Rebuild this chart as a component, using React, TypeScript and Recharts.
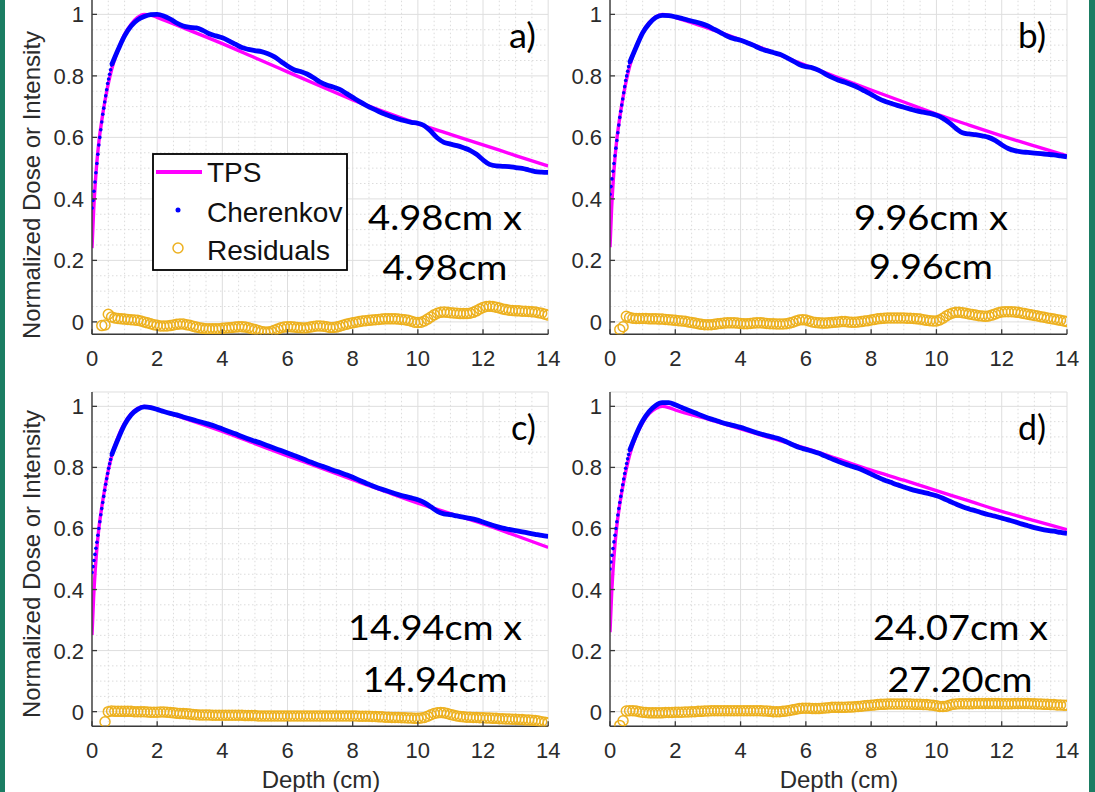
import React from "react";
import { ComposedChart, Line, Scatter, XAxis, YAxis, CartesianGrid, ReferenceLine } from "recharts";

const FONT = '"Liberation Sans", Arial, Helvetica, sans-serif';
const ANNOT_FONT = 'Lato, "Open Sans", sans-serif';
const AXIS = "#3a3a3a";
const TICK_TXT = "#2b2b2b";
const MAJOR_GRID = "#dedede";
const MINOR_GRID = "#dcdcdc";
const TPS_COLOR = "#ff00ff";
const CHER_COLOR = "#0000ff";
const RES_COLOR = "#EDB120";
const TEAL = "#1b7d63";

// ---------- axes ----------
const X_TICKS = [0, 2, 4, 6, 8, 10, 12, 14];
const Y_TICKS = [0, 0.2, 0.4, 0.6, 0.8, 1];
const X_MINOR = [0.5, 1, 1.5, 2.5, 3, 3.5, 4.5, 5, 5.5, 6.5, 7, 7.5, 8.5, 9, 9.5, 10.5, 11, 11.5, 12.5, 13, 13.5];
const Y_MINOR = [0.05, 0.1, 0.15, 0.25, 0.3, 0.35, 0.45, 0.5, 0.55, 0.65, 0.7, 0.75, 0.85, 0.9, 0.95];

// ---------- TPS (dose) ----------
const TPS_DEPTH = [0, 0.05, 0.1, 0.15, 0.2, 0.3, 0.4, 0.5, 0.6, 0.8, 1, 1.2, 1.4, 1.6, 1.8, 2, 3, 4, 5, 6, 7, 8, 9, 10, 11, 12, 13, 14];
const tpsA = [0.24, 0.36, 0.45, 0.52, 0.575, 0.655, 0.72, 0.775, 0.82, 0.885, 0.935, 0.968, 0.99, 1.0, 0.998, 0.99, 0.948, 0.905, 0.859, 0.813, 0.767, 0.722, 0.682, 0.644, 0.61, 0.576, 0.541, 0.507];
const tpsB = [0.243, 0.37, 0.46, 0.53, 0.585, 0.665, 0.73, 0.785, 0.83, 0.895, 0.942, 0.973, 0.992, 1.0, 0.997, 0.99, 0.955, 0.917, 0.876, 0.834, 0.794, 0.754, 0.715, 0.676, 0.64, 0.605, 0.572, 0.54];
const tpsC = [0.251, 0.375, 0.465, 0.535, 0.59, 0.67, 0.735, 0.79, 0.835, 0.9, 0.945, 0.975, 0.993, 1.0, 0.997, 0.99, 0.955, 0.918, 0.878, 0.838, 0.799, 0.76, 0.721, 0.683, 0.649, 0.615, 0.577, 0.538];
const tpsD = [0.26, 0.385, 0.475, 0.545, 0.6, 0.68, 0.742, 0.795, 0.84, 0.903, 0.947, 0.976, 0.993, 1.0, 0.996, 0.988, 0.958, 0.926, 0.894, 0.862, 0.827, 0.791, 0.758, 0.724, 0.69, 0.656, 0.626, 0.596];

// ---------- Cherenkov, build-up region (depth 0 .. 0.6, every 0.03 cm) ----------
const RISE_START = 0;
const RISE_STEP = 0.03;
const riseA = [0.37, 0.395, 0.425, 0.455, 0.485, 0.515, 0.545, 0.575, 0.6, 0.625, 0.65, 0.675, 0.695, 0.715, 0.735, 0.755, 0.775, 0.79, 0.805, 0.82, 0.835];
const riseB = [0.415, 0.44, 0.465, 0.49, 0.515, 0.54, 0.565, 0.59, 0.615, 0.64, 0.665, 0.685, 0.705, 0.725, 0.745, 0.765, 0.785, 0.8, 0.815, 0.83, 0.843];
const riseC = [0.456, 0.475, 0.495, 0.515, 0.535, 0.555, 0.578, 0.6, 0.622, 0.645, 0.665, 0.685, 0.705, 0.725, 0.745, 0.763, 0.78, 0.797, 0.812, 0.826, 0.84];
const riseD = [0.467, 0.49, 0.512, 0.534, 0.556, 0.578, 0.6, 0.622, 0.644, 0.665, 0.685, 0.705, 0.724, 0.743, 0.762, 0.78, 0.797, 0.813, 0.828, 0.842, 0.855];

// ---------- Cherenkov, depth 0.6 .. 14 every 0.2 cm ----------
const CHER_START = 0.6;
const CHER_STEP = 0.2;
const cherA = [
  0.835, 0.885,
  0.93, 0.962, 0.982, 0.993, 0.999,
  1.0, 0.995, 0.985, 0.972, 0.962,
  0.958, 0.956, 0.948, 0.937, 0.93,
  0.924, 0.914, 0.903, 0.892, 0.886,
  0.882, 0.879, 0.872, 0.862, 0.847,
  0.832, 0.82, 0.814, 0.806, 0.794,
  0.78, 0.77, 0.764, 0.756, 0.743,
  0.73, 0.717, 0.705, 0.694, 0.684,
  0.675, 0.667, 0.66, 0.654, 0.649,
  0.646, 0.638, 0.62, 0.598, 0.584,
  0.578, 0.573, 0.566, 0.558, 0.545,
  0.527, 0.512, 0.507, 0.506, 0.505,
  0.502, 0.499, 0.494, 0.489, 0.487,
  0.486,
];
const cherB = [
  0.843, 0.893,
  0.94, 0.97, 0.99, 0.997, 0.996,
  0.992, 0.987, 0.981, 0.976, 0.97,
  0.962, 0.951, 0.94, 0.929, 0.921,
  0.916, 0.908, 0.899, 0.889, 0.882,
  0.876, 0.87, 0.86, 0.849, 0.837,
  0.83, 0.826, 0.818, 0.806, 0.795,
  0.786, 0.779, 0.771, 0.762, 0.751,
  0.74, 0.728, 0.718, 0.711, 0.704,
  0.698, 0.692, 0.686, 0.682, 0.678,
  0.672, 0.662, 0.647, 0.629, 0.615,
  0.611, 0.609, 0.605, 0.6, 0.59,
  0.576, 0.564, 0.557, 0.553, 0.551,
  0.549, 0.547, 0.545, 0.543, 0.54,
  0.537,
];
const cherC = [
  0.84, 0.893,
  0.94, 0.972, 0.99, 0.998, 0.996,
  0.99, 0.983, 0.977, 0.972, 0.965,
  0.959, 0.953, 0.947, 0.941, 0.934,
  0.926, 0.918, 0.91, 0.901, 0.893,
  0.886, 0.879, 0.871, 0.863, 0.855,
  0.847, 0.839, 0.831, 0.822, 0.814,
  0.806, 0.799, 0.791, 0.784, 0.776,
  0.768, 0.758, 0.749, 0.74, 0.732,
  0.725, 0.718, 0.711, 0.705, 0.7,
  0.694, 0.685, 0.671, 0.656, 0.648,
  0.645, 0.641, 0.637, 0.633, 0.628,
  0.621, 0.614, 0.607, 0.601, 0.597,
  0.593, 0.589, 0.585, 0.581, 0.577,
  0.574,
];
const cherD = [
  0.855, 0.908,
  0.952, 0.983, 1.003, 1.012, 1.012,
  1.005, 0.996, 0.987, 0.979, 0.97,
  0.962, 0.955, 0.948, 0.942, 0.937,
  0.931, 0.924, 0.917, 0.91, 0.904,
  0.899, 0.893, 0.884, 0.874, 0.865,
  0.859, 0.853, 0.846, 0.837, 0.828,
  0.819, 0.811, 0.804, 0.797, 0.788,
  0.778, 0.768, 0.759, 0.751, 0.743,
  0.736, 0.729, 0.723, 0.718, 0.713,
  0.707, 0.699, 0.689, 0.68, 0.671,
  0.664, 0.658, 0.651, 0.645, 0.64,
  0.634, 0.628, 0.622, 0.615, 0.609,
  0.603, 0.598, 0.594, 0.591, 0.587,
  0.584,
];

// ---------- Residuals, every 0.1 cm ----------
const RES_STEP = 0.1;
const resA = [
  -0.012, -0.01, 0.025, 0.016, 0.013, 0.011, 0.01,
  0.009, 0.008, 0.007, 0.006, 0.005, 0.003, 0.0, -0.003, -0.006, -0.009,
  -0.011, -0.013, -0.013, -0.013, -0.012, -0.01, -0.008, -0.007, -0.007, -0.009,
  -0.011, -0.014, -0.017, -0.019, -0.021, -0.022, -0.022, -0.022, -0.022, -0.022,
  -0.021, -0.02, -0.019, -0.018, -0.017, -0.016, -0.016, -0.017, -0.019, -0.022,
  -0.025, -0.028, -0.031, -0.033, -0.033, -0.031, -0.027, -0.023, -0.019, -0.017,
  -0.016, -0.016, -0.017, -0.018, -0.019, -0.02, -0.019, -0.017, -0.015, -0.013,
  -0.013, -0.014, -0.016, -0.018, -0.018, -0.017, -0.014, -0.011, -0.008, -0.005,
  -0.003, -0.001, 0.001, 0.003, 0.004, 0.005, 0.006, 0.007, 0.008, 0.009,
  0.01, 0.01, 0.01, 0.01, 0.009, 0.008, 0.007, 0.005, 0.002, -0.001,
  -0.002, -0.001, 0.003, 0.009, 0.016, 0.023, 0.028, 0.031, 0.032, 0.031,
  0.03, 0.029, 0.028, 0.027, 0.027, 0.027, 0.028, 0.031, 0.036, 0.042,
  0.047, 0.05, 0.051, 0.05, 0.048, 0.045, 0.042, 0.04, 0.038, 0.037,
  0.036, 0.036, 0.035, 0.035, 0.034, 0.033, 0.032, 0.03, 0.028, 0.025,
  0.022,
];
const resB = [
  -0.025, -0.016, 0.018, 0.014, 0.012, 0.011, 0.011,
  0.011, 0.011, 0.01, 0.01, 0.01, 0.009, 0.009, 0.008, 0.007, 0.006,
  0.005, 0.004, 0.003, 0.002, 0.0, -0.002, -0.004, -0.006, -0.008, -0.009,
  -0.009, -0.009, -0.008, -0.006, -0.005, -0.004, -0.003, -0.003, -0.003, -0.004,
  -0.005, -0.006, -0.006, -0.005, -0.004, -0.003, -0.003, -0.004, -0.005, -0.006,
  -0.006, -0.007, -0.007, -0.007, -0.006, -0.004, -0.001, 0.003, 0.006, 0.007,
  0.006, 0.003, 0.0, -0.002, -0.003, -0.004, -0.004, -0.003, -0.002, -0.001,
  0.0, 0.001, 0.001, 0.0, -0.001, -0.001, 0.0, 0.001, 0.003, 0.004,
  0.006, 0.008, 0.01, 0.011, 0.012, 0.013, 0.013, 0.013, 0.013, 0.013,
  0.013, 0.012, 0.012, 0.011, 0.01, 0.009, 0.007, 0.005, 0.004, 0.003,
  0.003, 0.006, 0.012, 0.019, 0.025, 0.029, 0.031, 0.031, 0.03, 0.028,
  0.026, 0.024, 0.022, 0.02, 0.019, 0.018, 0.019, 0.022, 0.026, 0.03,
  0.032, 0.033, 0.033, 0.033, 0.032, 0.031, 0.029, 0.027, 0.025, 0.023,
  0.021, 0.019, 0.017, 0.015, 0.013, 0.011, 0.009, 0.007, 0.005, 0.003,
  0.001,
];
const resC = [
  -0.033, 0.0, 0.002, 0.001, 0.001, 0.001,
  0.001, 0.001, 0.001, 0.0, 0.0, 0.0, 0.0, -0.001, -0.002, -0.002,
  -0.002, -0.001, -0.001, -0.002, -0.003, -0.004, -0.005, -0.006, -0.006, -0.007,
  -0.008, -0.009, -0.01, -0.011, -0.011, -0.011, -0.011, -0.012, -0.012, -0.012,
  -0.012, -0.012, -0.012, -0.012, -0.012, -0.012, -0.012, -0.013, -0.013, -0.013,
  -0.013, -0.014, -0.014, -0.014, -0.014, -0.014, -0.014, -0.014, -0.014, -0.014,
  -0.014, -0.014, -0.014, -0.014, -0.014, -0.014, -0.014, -0.014, -0.014, -0.014,
  -0.014, -0.014, -0.014, -0.014, -0.014, -0.014, -0.014, -0.014, -0.014, -0.014,
  -0.014, -0.014, -0.015, -0.015, -0.015, -0.015, -0.016, -0.016, -0.017, -0.017,
  -0.018, -0.018, -0.019, -0.019, -0.019, -0.02, -0.02, -0.021, -0.021, -0.022,
  -0.022, -0.021, -0.019, -0.015, -0.01, -0.006, -0.004, -0.003, -0.004, -0.006,
  -0.009, -0.012, -0.014, -0.016, -0.017, -0.018, -0.018, -0.019, -0.019, -0.02,
  -0.02, -0.021, -0.021, -0.022, -0.022, -0.023, -0.023, -0.024, -0.024, -0.025,
  -0.025, -0.026, -0.026, -0.027, -0.027, -0.028, -0.029, -0.031, -0.033, -0.035,
  -0.036,
];
const resD = [
  -0.045, -0.03, 0.002, 0.003, 0.003, 0.002, 0.0,
  -0.002, -0.003, -0.004, -0.004, -0.004, -0.004, -0.004, -0.003, -0.003, -0.003,
  -0.002, -0.002, -0.002, -0.001, -0.001, 0.0, 0.0, 0.001, 0.001, 0.002,
  0.002, 0.003, 0.003, 0.003, 0.003, 0.003, 0.003, 0.003, 0.003, 0.003,
  0.003, 0.003, 0.003, 0.003, 0.003, 0.003, 0.003, 0.002, 0.002, 0.001,
  0.0, 0.0, 0.0, 0.001, 0.002, 0.004, 0.006, 0.008, 0.01, 0.011,
  0.011, 0.011, 0.01, 0.01, 0.01, 0.011, 0.012, 0.013, 0.014, 0.014,
  0.014, 0.014, 0.014, 0.015, 0.015, 0.016, 0.017, 0.018, 0.019, 0.02,
  0.021, 0.022, 0.023, 0.024, 0.024, 0.025, 0.025, 0.025, 0.025, 0.025,
  0.025, 0.025, 0.025, 0.024, 0.024, 0.024, 0.023, 0.023, 0.022, 0.021,
  0.019, 0.017, 0.017, 0.018, 0.021, 0.024, 0.025, 0.026, 0.026, 0.026,
  0.026, 0.026, 0.027, 0.027, 0.027, 0.027, 0.027, 0.027, 0.027, 0.027,
  0.026, 0.026, 0.026, 0.026, 0.027, 0.027, 0.027, 0.027, 0.027, 0.026,
  0.026, 0.025, 0.025, 0.024, 0.024, 0.023, 0.023, 0.022, 0.022, 0.021,
  0.021,
];

type Pt = { d: number; v: number };
const pairs = (depths: number[], vals: number[]): Pt[] => vals.map((v, i) => ({ d: depths[i], v }));
const onGrid = (start: number, step: number, vals: number[]): Pt[] =>
  vals.map((v, i) => ({ d: Math.round((start + i * step) * 1000) / 1000, v }));

const TOP_DOMAIN: [number, number] = [-0.04, 1.05];
const BOT_DOMAIN: [number, number] = [-0.048, 1.047];

const PANELS = [
  { id: "a", tps: tpsA, rise: riseA, cher: cherA, res: resA, resStart: 0.3, left: 92, top: -1.4, w: 456.2, h: 335.2, domain: TOP_DOMAIN },
  { id: "b", tps: tpsB, rise: riseB, cher: cherB, res: resB, resStart: 0.3, left: 610, top: -1.4, w: 457, h: 335.2, domain: TOP_DOMAIN },
  { id: "c", tps: tpsC, rise: riseC, cher: cherC, res: resC, resStart: 0.4, left: 92, top: 391.7, w: 456.2, h: 334.3, domain: BOT_DOMAIN },
  { id: "d", tps: tpsD, rise: riseD, cher: cherD, res: resD, resStart: 0.3, left: 610, top: 391.7, w: 457, h: 334.3, domain: BOT_DOMAIN },
];

const XTick = (p: any) => {
  const { x, y, payload } = p;
  return (
    <g>
      <line x1={x} x2={x} y1={y} y2={y - 5} stroke={AXIS} strokeWidth={1.3} />
      <text x={x} y={y + 32} textAnchor="middle" fontSize={22} fontFamily={FONT} fill={TICK_TXT}>
        {String(payload.value)}
      </text>
    </g>
  );
};

const YTick = (p: any) => {
  const { x, y, payload } = p;
  return (
    <g>
      <line x1={x} x2={x + 5} y1={y} y2={y} stroke={AXIS} strokeWidth={1.3} />
      <text x={x - 8} y={y + 8} textAnchor="end" fontSize={22} fontFamily={FONT} fill={TICK_TXT}>
        {String(payload.value)}
      </text>
    </g>
  );
};

const dotShape = (p: any) => <circle cx={p.cx} cy={p.cy} r={1.8} fill={CHER_COLOR} />;
const ringShape = (p: any) => (
  <circle cx={p.cx} cy={p.cy} r={5} fill="none" stroke={RES_COLOR} strokeWidth={1.5} />
);

function Panel({ cfg }: { cfg: (typeof PANELS)[number] }) {
  const ML = 80, MT = 10, MR = 20, XH = 60;
  const width = cfg.w + ML + MR;
  const height = cfg.h + MT + XH;
  const tps = pairs(TPS_DEPTH, cfg.tps);
  const rise = onGrid(RISE_START, RISE_STEP, cfg.rise);
  const cher = onGrid(CHER_START, CHER_STEP, cfg.cher);
  const res = onGrid(cfg.resStart, RES_STEP, cfg.res);
  return (
    <div style={{ position: "absolute", left: cfg.left - ML, top: cfg.top - MT, width, height }}>
      <ComposedChart width={width} height={height} margin={{ top: MT, right: MR, bottom: 0, left: 0 }}>
        <CartesianGrid stroke={MAJOR_GRID} strokeWidth={1} />
        {X_MINOR.map((x) => (
          <ReferenceLine key={"x" + x} x={x} stroke={MINOR_GRID} strokeWidth={1} strokeDasharray="1.5 2.5" />
        ))}
        {Y_MINOR.map((y) => (
          <ReferenceLine key={"y" + y} y={y} stroke={MINOR_GRID} strokeWidth={1} strokeDasharray="1.5 2.5" />
        ))}
        <XAxis
          type="number"
          dataKey="d"
          domain={[0, 14]}
          ticks={X_TICKS}
          interval={0}
          allowDataOverflow
          height={XH}
          tickLine={false}
          tickSize={0}
          tickMargin={0}
          axisLine={{ stroke: AXIS, strokeWidth: 1.4 }}
          tick={XTick}
        />
        <YAxis
          type="number"
          dataKey="v"
          domain={cfg.domain}
          ticks={Y_TICKS}
          interval={0}
          allowDataOverflow
          width={ML}
          tickLine={false}
          tickSize={0}
          tickMargin={0}
          axisLine={{ stroke: AXIS, strokeWidth: 1.4 }}
          tick={YTick}
        />
        <Line data={tps} dataKey="v" type="monotone" stroke={TPS_COLOR} strokeWidth={3.4} dot={false} isAnimationActive={false} />
        <Line data={cher} dataKey="v" type="monotone" stroke={CHER_COLOR} strokeWidth={4.8} dot={false} isAnimationActive={false} />
        <Scatter data={rise} shape={dotShape} isAnimationActive={false} />
        <Scatter data={res} shape={ringShape} isAnimationActive={false} />
      </ComposedChart>
    </div>
  );
}

const ANNOTATIONS = [
  { t: "a)", x: 509, y: 48, anchor: "start", len: 27 },
  { t: "4.98cm x", x: 445, y: 230, anchor: "middle", len: 154 },
  { t: "4.98cm", x: 445, y: 280, anchor: "middle", len: 125 },
  { t: "b)", x: 1018, y: 48, anchor: "start", len: 28 },
  { t: "9.96cm x", x: 931, y: 230, anchor: "middle", len: 154 },
  { t: "9.96cm", x: 931, y: 279, anchor: "middle", len: 124 },
  { t: "c)", x: 511, y: 440, anchor: "start", len: 25 },
  { t: "14.94cm x", x: 435, y: 640, anchor: "middle", len: 174 },
  { t: "14.94cm", x: 435, y: 692, anchor: "middle", len: 145 },
  { t: "d)", x: 1018, y: 440, anchor: "start", len: 28 },
  { t: "24.07cm x", x: 960.5, y: 640, anchor: "middle", len: 175 },
  { t: "27.20cm", x: 960, y: 692, anchor: "middle", len: 145 },
];

export default function App() {
  return (
    <div style={{ position: "absolute", left: 0, top: 0, width: 1095, height: 792, overflow: "hidden", background: "#ffffff" }}>
      {PANELS.map((p) => (
        <Panel key={p.id} cfg={p} />
      ))}
      <svg width={1095} height={792} style={{ position: "absolute", left: 0, top: 0, pointerEvents: "none" }}>
        {/* y axis labels */}
        <text transform="translate(40,185) rotate(-90)" textAnchor="middle" fontSize={24} fontFamily={FONT} fill={TICK_TXT}>
          Normalized Dose or Intensity
        </text>
        <text transform="translate(40,564) rotate(-90)" textAnchor="middle" fontSize={24} fontFamily={FONT} fill={TICK_TXT}>
          Normalized Dose or Intensity
        </text>
        {/* x axis labels */}
        <text x={321} y={788} textAnchor="middle" fontSize={24} fontFamily={FONT} fill={TICK_TXT}>
          Depth (cm)
        </text>
        <text x={839} y={788} textAnchor="middle" fontSize={24} fontFamily={FONT} fill={TICK_TXT}>
          Depth (cm)
        </text>
        {/* panel annotations */}
        {ANNOTATIONS.map((a, i) => (
          <text
            key={i}
            x={a.x}
            y={a.y}
            textAnchor={a.anchor as any}
            fontSize={34}
            fontFamily={ANNOT_FONT}
            fill="#000000"
            textLength={a.len}
            lengthAdjust="spacingAndGlyphs"
          >
            {a.t}
          </text>
        ))}
        {/* legend */}
        <g>
          <rect x={153} y={154} width={194} height={116} fill="#ffffff" stroke="#000000" strokeWidth={1.8} />
          <line x1={156} x2={202} y1={172} y2={172} stroke={TPS_COLOR} strokeWidth={4} />
          <text x={207} y={182} fontSize={28} fontFamily={FONT} fill="#111111">TPS</text>
          <circle cx={178} cy={210} r={2.5} fill={CHER_COLOR} />
          <text x={207} y={222} fontSize={28} fontFamily={FONT} fill="#111111">Cherenkov</text>
          <circle cx={178} cy={248} r={5} fill="none" stroke={RES_COLOR} strokeWidth={1.5} />
          <text x={207} y={260} fontSize={28} fontFamily={FONT} fill="#111111">Residuals</text>
        </g>
      </svg>
      <div style={{ position: "absolute", left: 0, top: 0, width: 5, height: 792, background: TEAL }} />
      <div style={{ position: "absolute", left: 1089, top: 0, width: 6, height: 792, background: TEAL }} />
    </div>
  );
}
